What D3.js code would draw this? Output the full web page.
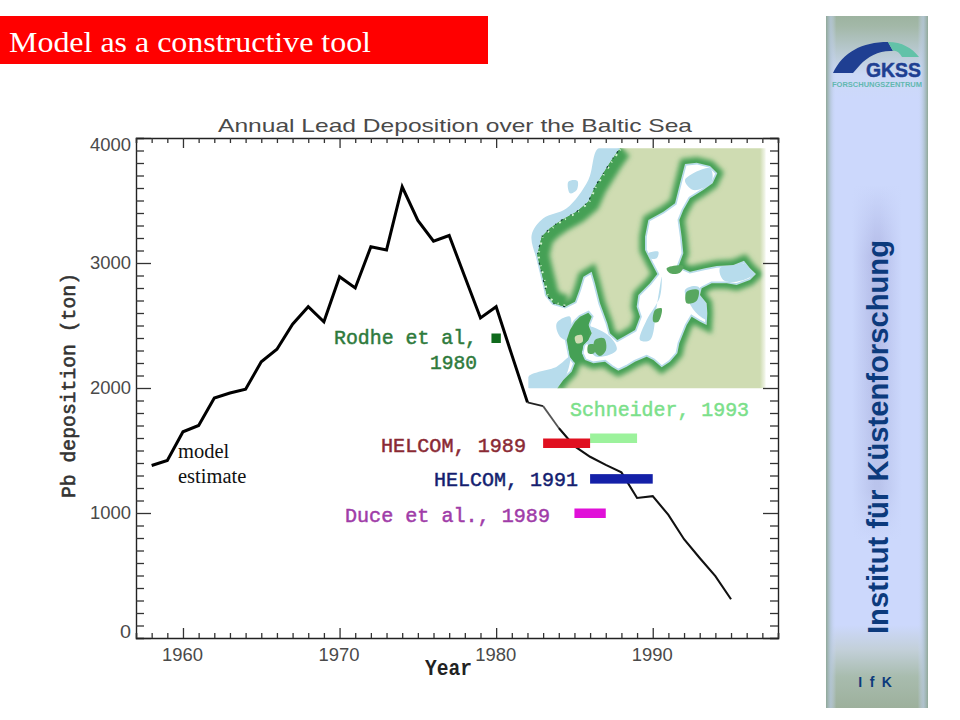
<!DOCTYPE html>
<html><head><meta charset="utf-8">
<style>html,body{margin:0;padding:0;background:#fff}svg{display:block}</style>
<script src="https://cdn.jsdelivr.net/npm/d3@7"></script></head>
<body><svg id="c" width="960" height="720"></svg>
<script>
const slideTitle="Model as a constructive tool";
const chartTitle="Annual Lead Deposition over the Baltic Sea";
const yLabel="Pb deposition (ton)";
const xLabel="Year";
const years=[1958,1959,1960,1961,1962,1963,1964,1965,1966,1967,1968,1969,1970,1971,1972,1973,1974,1975,1976,1977,1978,1979,1980,1981,1982,1983,1984,1985,1986,1987,1988,1989,1990,1991,1992,1993,1994,1995];
const deposition=[1380,1420,1650,1700,1920,1960,1990,2210,2310,2510,2650,2530,2890,2800,3130,3105,3610,3340,3175,3220,2890,2560,2650,2265,1885,1855,1680,1535,1450,1385,1325,1120,1135,985,790,640,495,310];
const xTicks=[1960,1970,1980,1990];
const yTicks=[0,1000,2000,3000,4000];
const estimateNames=["Rodhe","Schneider","HELCOM89","HELCOM91","Duce"];
const estimateStart=[1979.7,1986,1983,1986,1985];
const estimateEnd=[1980.3,1989,1986,1990,1987];
const estimateValue=[2400,1600,1560,1275,1000];
const estimateColors=["#0f6a1c","#9cf29c","#e01020","#1420a8","#e010d8"];
// Map coast: traced in a 780x780 frame of the inset picture
const coast=[[112,745],[130,720],[155,695],[165,670],[150,650],[145,625],[140,600],[150,570],[165,545],[180,530],[205,518],[215,530],[205,555],[215,580],[205,600],[190,615],[185,640],[195,660],[220,670],[255,665],[275,680],[295,692],[320,680],[345,665],[380,650],[400,660],[425,682],[450,665],[472,640],[478,610],[490,580],[500,555],[515,530],[540,545],[560,555],[562,520],[560,490],[540,465],[545,445],[575,430],[620,430],[650,435],[690,420],[708,402],[690,385],[672,362],[640,375],[590,378],[555,385],[510,395],[475,380],[490,340],[485,290],[478,240],[490,210],[510,175],[550,150],[578,130],[592,100],[570,78],[530,68],[495,72],[480,130],[465,190],[430,215],[385,240],[375,290],[375,330],[395,370],[412,402],[390,430],[355,465],[350,500],[360,530],[345,570],[310,590],[292,600],[270,580],[262,550],[240,490],[225,430],[215,395],[190,410],[178,450],[165,485],[135,500],[100,490],[80,465],[75,440],[65,400],[52,345],[65,290],[90,265],[125,240],[170,215],[205,185],[225,140],[250,100],[275,60],[300,25]];
const landCorners=[[300,10],[760,10],[760,760],[112,760]];
const westCoast=[[135,500],[100,490],[80,465],[75,440],[65,400],[52,345],[65,290],[90,265],[125,240],[170,215],[205,185],[225,140],[250,100],[275,60],[300,25]];
const jutland=[[150,575],[200,528],[205,600],[185,655],[155,665]];
const jutlandCentre=[[165,590],[185,585],[188,605],[170,610]];
const shelf=[[[235,25],[298,25],[250,110],[205,190],[125,245],[70,300],[62,350],[80,440],[55,370],[35,285],[70,235],[140,205],[205,120]],[[145,125],[172,122],[170,150],[150,160]],[[25,710],[110,680],[150,650],[115,745],[25,745]],[[110,550],[150,530],[145,600],[120,590]],[[600,385],[670,370],[705,400],[650,425],[610,420]],[[380,540],[420,470],[425,410],[410,500],[390,600],[360,600]],[[495,120],[570,85],[575,125],[520,150]],[[200,560],[270,590],[290,630],[230,650],[205,620]],[[495,450],[535,440],[565,540],[530,520]],[[385,340],[415,335],[410,355],[390,355]]];
const islands=[[[205,615],[225,615],[222,640],[205,640]],[[225,600],[252,595],[258,630],[240,648],[222,630]],[[500,455],[535,450],[530,482],[500,490]],[[405,510],[425,505],[415,545],[400,545]],[[440,385],[490,378],[480,398],[450,400]]];

const svg=d3.select("#c");
const defs=svg.append("defs");
const lg=(id,x2,y2,st)=>{const g=defs.append("linearGradient").attr("id",id).attr("x1",0).attr("y1",0).attr("x2",x2).attr("y2",y2);st.forEach(s=>g.append("stop").attr("offset",s[0]).attr("stop-color",s[1]).attr("stop-opacity",s[2]===undefined?1:s[2]));};
lg("sideV",0,1,[[0,"#9db3a0"],[0.015,"#a3b8a8"],[0.085,"#ccd9f6"],[0.12,"#ccd8fc"],[0.88,"#ccd8fc"],[0.915,"#c3d0da"],[0.955,"#a8bcae"],[1,"#9db09c"]]);
lg("sideH",1,0,[[0,"#90a898",1],[0.045,"#b4c6d8",0.8],[0.1,"#ccd8fc",0],[0.9,"#ccd8fc",0],[0.955,"#b4c6d8",0.8],[1,"#90a898",1]]);
lg("bandV",0,1,[[0,"#b4bce8",0],[0.2,"#b4bce8",1],[0.86,"#bac4ec",1],[1,"#bac4ec",0]]);
lg("bandH",1,0,[[0,"#ccd8fc",1],[0.45,"#ccd8fc",0],[0.55,"#ccd8fc",0],[1,"#ccd8fc",1]]);
lg("fadeR",1,0,[[0,"#fff",0],[1,"#fff",1]]);
const blur=(id,s)=>defs.append("filter").attr("id",id).attr("filterUnits","userSpaceOnUse").attr("x",500).attr("y",120).attr("width",300).attr("height",300).append("feGaussianBlur").attr("stdDeviation",s);
blur("b2",2.6);blur("b1",0.5);

// Slide title
svg.append("rect").attr("x",0).attr("y",16).attr("width",488).attr("height",48).attr("fill","#ff0000");
svg.append("text").attr("x",9).attr("y",52).attr("font-family","'Liberation Serif'").attr("font-size",30).attr("fill","#fff").attr("textLength",362).attr("lengthAdjust","spacingAndGlyphs").text(slideTitle);

// Sidebar
const side=svg.append("g");
side.append("rect").attr("x",826).attr("y",16).attr("width",102).attr("height",692).attr("fill","url(#sideV)");
side.append("rect").attr("x",826).attr("y",16).attr("width",102).attr("height",692).attr("fill","url(#sideH)");
side.append("rect").attr("x",852).attr("y",185).attr("width",50).attr("height",355).attr("fill","url(#bandV)");
side.append("rect").attr("x",852).attr("y",185).attr("width",50).attr("height",355).attr("fill","url(#bandH)");
side.append("text").attr("transform","translate(888,634) rotate(-90)").attr("font-family","'Liberation Sans'").attr("font-weight","bold").attr("font-size",29).attr("fill","#0c3a7c").attr("textLength",394).attr("lengthAdjust","spacingAndGlyphs").text("Institut für Küstenforschung");
side.append("text").attr("x",876).attr("y",687).attr("text-anchor","middle").attr("font-family","'Liberation Sans'").attr("font-weight","bold").attr("font-size",14).attr("letter-spacing",1.8).attr("fill","#0c3a7c").text("I f K");
// GKSS logo
side.append("path").attr("d","M833,73 C843,52 862,42 888,42 L893,51 C880,50 868,56 860,65 L853,73 Z").attr("fill","#1f3f92");
side.append("path").attr("d","M888,42 C902,42 912,48 919,57 L902,57 C899,52 896,50 893,51 Z").attr("fill","#62c2a8");
side.append("text").attr("x",921).attr("y",77).attr("text-anchor","end").attr("font-family","'Liberation Sans'").attr("font-weight","bold").attr("font-size",21).attr("fill","#1f3f92").attr("stroke","#1f3f92").attr("stroke-width",0.5).attr("textLength",55).attr("lengthAdjust","spacingAndGlyphs").text("GKSS");
side.append("text").attr("x",832).attr("y",87).attr("font-family","'Liberation Sans'").attr("font-weight","bold").attr("font-size",7.5).attr("fill","#62b8b0").attr("textLength",90).attr("lengthAdjust","spacingAndGlyphs").text("FORSCHUNGSZENTRUM");

// Scales
const x=d3.scaleLinear().domain([1957,1998]).range([136,778]);
const y=d3.scaleLinear().domain([0,4000]).range([638,138]);
const allY=d3.range(0,4001,100), allX=d3.range(1957,1999,1);
const styleAxis=g=>{g.select(".domain").attr("stroke","#222").attr("stroke-width",1.4);g.selectAll(".tick line").attr("stroke","#333").attr("stroke-width",1.3);};

// Inset map
const mx=d3.scaleLinear().domain([0,780]).range([520,780]);
const my=d3.scaleLinear().domain([0,780]).range([140,400]);
const pathOf=d3.line().x(d=>mx(d[0])).y(d=>my(d[1])).curve(d3.curveCatmullRomClosed.alpha(0.5));
const openPath=d3.line().x(d=>mx(d[0])).y(d=>my(d[1]));
const landPath=d3.line().x(d=>mx(d[0])).y(d=>my(d[1])).curve(d3.curveLinearClosed);
const land=[...coast,...landCorners];
defs.append("clipPath").attr("id","mapClip").append("path").attr("d",`M${mx(25)},${my(25)}H${mx(737)}V${my(745)}H${mx(25)}Z`);
defs.append("clipPath").attr("id","landClip").append("path").attr("d",landPath(land));
const m=svg.append("g").attr("clip-path","url(#mapClip)");
m.selectAll("path.shelf").data(shelf).join("path").attr("class","shelf").attr("d",pathOf).attr("fill","#b7dcec");
m.append("path").attr("d",openPath(coast)).attr("fill","none").attr("stroke","#b7dcec").attr("stroke-width",3.5);
m.append("path").attr("d",landPath(land)).attr("fill","#cfdcb2");
const inner=m.append("g").attr("clip-path","url(#landClip)");
inner.append("path").attr("d",openPath(coast)).attr("fill","none").attr("stroke","#45a055").attr("stroke-width",11).attr("filter","url(#b2)");
inner.append("path").attr("d",openPath(westCoast)).attr("fill","none").attr("stroke","#45a055").attr("stroke-width",24).attr("filter","url(#b2)");
inner.append("path").attr("d",pathOf(jutland)).attr("fill","#45a055").attr("filter","url(#b1)");
inner.append("path").attr("d",pathOf(jutlandCentre)).attr("fill","#cfdcb2").attr("filter","url(#b1)");
inner.append("path").attr("d",openPath(westCoast)).attr("fill","none").attr("stroke","#d6f5d6").attr("stroke-width",4).attr("stroke-dasharray","2 5 1 7");
m.append("path").attr("d",openPath(westCoast)).attr("fill","none").attr("stroke","#143c34").attr("stroke-width",1.2).attr("stroke-dasharray","2 9 1 6");
m.selectAll("path.island").data(islands).join("path").attr("class","island").attr("d",pathOf).attr("fill","#58a75e").attr("filter","url(#b1)");
svg.append("rect").attr("x",760).attr("y",148).attr("width",7).attr("height",241).attr("fill","url(#fadeR)");

// Axes
svg.append("g").attr("transform","translate(136,0)").call(d3.axisLeft(y).tickValues(allY).tickSize(-8).tickFormat("")).call(styleAxis)
 .call(g=>g.selectAll(".tick line").filter(d=>yTicks.includes(d)).attr("x2",15));
svg.append("g").attr("transform","translate(778,0)").call(d3.axisRight(y).tickValues(allY).tickSize(-8).tickFormat("")).call(styleAxis)
 .call(g=>g.selectAll(".tick line").filter(d=>yTicks.includes(d)).attr("x2",-15));
svg.append("g").attr("transform","translate(0,638)").call(d3.axisBottom(x).tickValues(allX).tickSize(-5).tickFormat("")).call(styleAxis)
 .call(g=>g.selectAll(".tick line").filter(d=>xTicks.includes(d)).attr("y2",-10));
svg.append("g").attr("transform","translate(0,138)").call(d3.axisTop(x).tickValues(allX).tickSize(-5).tickFormat("")).call(styleAxis)
 .call(g=>g.selectAll(".tick line").filter(d=>xTicks.includes(d)).attr("y2",10));

const tf="'Liberation Sans'";
svg.selectAll("text.yt").data(yTicks).join("text").attr("class","yt").attr("x",131)
 .attr("y",d=>y(d)+(d===0?0:d===4000?13:6)).attr("text-anchor","end").attr("font-family",tf).attr("font-size",18).attr("fill","#4a4a4a").attr("textLength",d=>d===0?11:41).attr("lengthAdjust","spacingAndGlyphs").text(d=>d);
svg.selectAll("text.xt").data(xTicks).join("text").attr("class","xt").attr("x",d=>x(d)-0.5).attr("y",661).attr("text-anchor","middle").attr("font-family",tf).attr("font-size",18).attr("fill","#4a4a4a").attr("textLength",41).attr("lengthAdjust","spacingAndGlyphs").text(d=>d);
svg.append("text").attr("x",218).attr("y",132).attr("font-family",tf).attr("font-size",18.5).attr("fill","#4a4a4a").attr("textLength",474).attr("lengthAdjust","spacingAndGlyphs").text(chartTitle);
svg.append("text").attr("transform","translate(75,498) rotate(-90)").attr("font-family","'Liberation Mono'").attr("font-size",21).attr("fill","#333").attr("stroke","#333").attr("stroke-width",0.6).attr("textLength",225).attr("lengthAdjust","spacingAndGlyphs").text(yLabel);
svg.append("text").attr("x",425).attr("y",675).attr("font-family","'Liberation Mono'").attr("font-size",22).attr("font-weight","bold").attr("fill","#222").attr("textLength",47).attr("lengthAdjust","spacingAndGlyphs").text(xLabel);

// Series: heavy until 1982, thinner after
const line=d3.line().x(d=>x(d[0])).y(d=>y(d[1]));
const pts=years.map((yr,i)=>[yr,deposition[i]]);
svg.append("path").attr("d",line(pts.filter(d=>d[0]<=1982))).attr("fill","none").attr("stroke","#000").attr("stroke-width",3);
svg.append("path").attr("d",line(pts.filter(d=>d[0]>=1982&&d[0]<=1983))).attr("fill","none").attr("stroke","#222").attr("stroke-width",1.8);
svg.append("path").attr("d",line(pts.filter(d=>d[0]>=1983&&d[0]<=1984))).attr("fill","none").attr("stroke","#555").attr("stroke-width",1.8);
svg.append("path").attr("d",line(pts.filter(d=>d[0]>=1984))).attr("fill","none").attr("stroke","#111").attr("stroke-width",2.1);

// Estimates
svg.selectAll("rect.est").data(estimateNames).join("rect").attr("class","est")
 .attr("x",(d,i)=>x(estimateStart[i])).attr("width",(d,i)=>x(estimateEnd[i])-x(estimateStart[i]))
 .attr("y",(d,i)=>y(estimateValue[i])-4.5).attr("height",9.5).attr("fill",(d,i)=>estimateColors[i]);

const mono="'Liberation Mono'";
const labels=[["Rodhe et al,",334,344,143,"#2e7a3c"],["1980",430,369,47,"#2e7a3c"],["Schneider, 1993",570,416,179,"#7be08a"],["HELCOM, 1989",381,452,145,"#8a2a34"],["HELCOM, 1991",434,486,144,"#141e70"],["Duce et al., 1989",345,522,205,"#a03ca8"]];
svg.selectAll("text.lab").data(labels).join("text").attr("class","lab").attr("x",d=>d[1]).attr("y",d=>d[2]).attr("font-family",mono).attr("font-size",21).attr("fill",d=>d[4]).attr("stroke",d=>d[4]).attr("stroke-width",0.5).attr("textLength",d=>d[3]).attr("lengthAdjust","spacingAndGlyphs").text(d=>d[0]);

const serif="'Liberation Serif'";
svg.append("text").attr("x",178).attr("y",458).attr("font-family",serif).attr("font-size",20.5).attr("fill","#111").text("model");
svg.append("text").attr("x",178).attr("y",483).attr("font-family",serif).attr("font-size",20.5).attr("fill","#111").text("estimate");
</script></body></html>
